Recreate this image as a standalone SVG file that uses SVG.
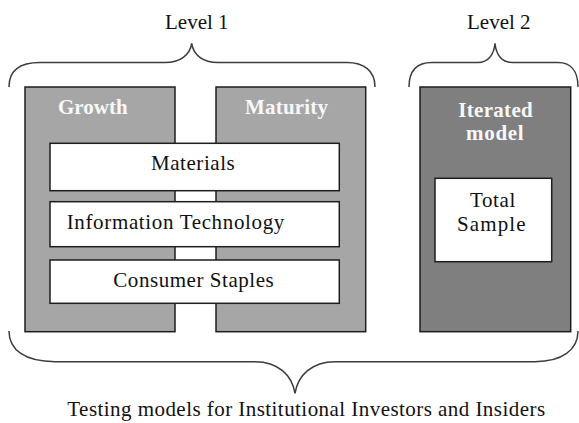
<svg xmlns="http://www.w3.org/2000/svg" width="579" height="423" viewBox="0 0 579 423">
<style>
.panel{stroke:#1e1e1e;stroke-width:1.5}
.lt{fill:#a6a6a6}
.dk{fill:#7f7f7f}
.box{fill:#ffffff;stroke:#1e1e1e;stroke-width:1.5}
.brace{fill:none;stroke:#3c3c3c;stroke-width:1.5}
.hd{font-weight:bold;fill:#f6f8fb}
</style>
<rect width="579" height="423" fill="#ffffff"/>
<g id="braces">
<path class="brace" d="M9,87 C9,70 20,62.5 40,62.5 L165,62.5 C180,62.5 190,55 191.7,43.3 C193.4,55 203,62.5 218,62.5 L347,62.5 C363,62.5 375,70 375,87"/>
<path class="brace" d="M409,87 C409,70 418,62.5 432,62.5 L478,62.5 C488,62.5 494,55 495,43.3 C496,55 502,62.5 512,62.5 L558,62.5 C570,62.5 578,70 578,87"/>
<path class="brace" d="M9,331 C9,350 25,361.7 55,361.7 L255,361.7 C278,361.7 292,375 295,393.3 C298,375 312,361.7 335,361.7 L535,361.7 C562,361.7 578,350 578,331"/>
</g>
<g id="level1-label"><text font-family="Liberation Serif" font-size="21" fill="#111" x="165" y="29.3">Level 1</text></g>
<g id="level2-label"><text font-family="Liberation Serif" font-size="21" fill="#111" x="467" y="29.3">Level 2</text></g>
<g id="growth">
<rect class="panel lt" x="25" y="87" width="150" height="244.7"/>
<text font-family="Liberation Serif" font-size="21" class="hd" x="58" y="114">Growth</text>
</g>
<g id="maturity">
<rect class="panel lt" x="216" y="87" width="149.7" height="244.7"/>
<text font-family="Liberation Serif" font-size="21" class="hd" x="245" y="114" letter-spacing="0.2">Maturity</text>
</g>
<g id="iterated">
<rect class="panel dk" x="420" y="87" width="150.7" height="244.7"/>
<text font-family="Liberation Serif" font-size="21" class="hd" x="458.3" y="117.3" letter-spacing="0.3">Iterated</text>
<text font-family="Liberation Serif" font-size="21" class="hd" x="466" y="140" letter-spacing="0.7">model</text>
</g>
<g id="materials">
<rect class="box" x="50" y="143.3" width="289.3" height="47.4"/>
<text font-family="Liberation Serif" font-size="21" fill="#111" x="151" y="170" letter-spacing="0.55">Materials</text>
</g>
<g id="infotech">
<rect class="box" x="50" y="201.7" width="289.3" height="45"/>
<text font-family="Liberation Serif" font-size="21" fill="#111" x="66.7" y="229.3" letter-spacing="0.65">Information Technology</text>
</g>
<g id="staples">
<rect class="box" x="50" y="260" width="289.3" height="43.3"/>
<text font-family="Liberation Serif" font-size="21" fill="#111" x="113.3" y="286.7" letter-spacing="0.55">Consumer Staples</text>
</g>
<g id="total-sample">
<rect class="box" x="435" y="178.3" width="116.7" height="83.4"/>
<text font-family="Liberation Serif" font-size="21" fill="#111" x="470" y="207.3" letter-spacing="0.6">Total</text>
<text font-family="Liberation Serif" font-size="21" fill="#111" x="457" y="230.7" letter-spacing="1.1">Sample</text>
</g>
<g id="bottom-label"><text font-family="Liberation Serif" font-size="21" fill="#111" x="67.3" y="416" letter-spacing="0.45">Testing models for Institutional Investors and Insiders</text></g>
</svg>
